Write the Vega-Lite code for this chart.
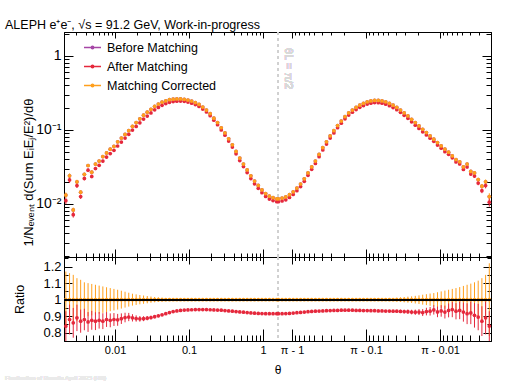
{
"$schema": "https://vega.github.io/schema/vega-lite/v6.json",
"autosize": {"type": "pad"},
"padding": {"left": 5, "top": 18, "right": 38, "bottom": 4},
"bounds": "flush",
"spacing": 0,
"config": {
 "font": "Liberation Sans",
 "view": {"stroke": null},
 "legend": {"symbolStrokeWidth": 1.5},
 "axis": {"labelFont": "Liberation Sans", "titleFont": "Liberation Sans", "labelColor": "black", "titleColor": "black", "titleFontWeight": "normal", "grid": false, "domainColor": "black", "domainWidth": 1, "tickColor": "black", "tickWidth": 1, "ticks": true, "labelOverlap": false, "labelFlush": false, "labelBound": false}
},
"title": {"text": "ALEPH e⁺e⁻, √s = 91.2 GeV, Work-in-progress", "anchor": "start", "fontSize": 12.5, "font": "Liberation Sans", "fontWeight": "normal", "color": "black", "offset": 0.5},
"resolve": {"scale": {"color": "shared"}},
"datasets": {"bins": [
{"u":-2.665,"b":0.01318,"a":0.01107,"e":0.00112,"rc":1,"ra":0.84,"ec":0.17,"ea":0.09},
{"u":-2.615,"b":0.024,"a":0.02112,"e":0.00192,"rc":1,"ra":0.88,"ec":0.16,"ea":0.09},
{"u":-2.565,"b":0.00832,"a":0.00716,"e":0.00062,"rc":1,"ra":0.86,"ec":0.15,"ea":0.09},
{"u":-2.515,"b":0.01995,"a":0.01776,"e":0.0013,"rc":1,"ra":0.89,"ec":0.13,"ea":0.08},
{"u":-2.465,"b":0.01445,"a":0.01257,"e":0.00087,"rc":1,"ra":0.87,"ec":0.12,"ea":0.07},
{"u":-2.415,"b":0.02512,"a":0.02211,"e":0.00132,"rc":1,"ra":0.88,"ec":0.105,"ea":0.065},
{"u":-2.365,"b":0.03311,"a":0.02864,"e":0.00166,"rc":1,"ra":0.865,"ec":0.1,"ea":0.06},
{"u":-2.315,"b":0.02692,"a":0.02356,"e":0.00128,"rc":1,"ra":0.875,"ec":0.095,"ea":0.057},
{"u":-2.265,"b":0.03467,"a":0.03016,"e":0.00156,"rc":1,"ra":0.87,"ec":0.09,"ea":0.054},
{"u":-2.215,"b":0.03802,"a":0.03327,"e":0.00162,"rc":1,"ra":0.875,"ec":0.085,"ea":0.05},
{"u":-2.165,"b":0.04365,"a":0.03798,"e":0.00175,"rc":1,"ra":0.87,"ec":0.08,"ea":0.048},
{"u":-2.115,"b":0.04898,"a":0.0431,"e":0.00184,"rc":1,"ra":0.88,"ec":0.075,"ea":0.045},
{"u":-2.065,"b":0.05495,"a":0.04808,"e":0.00192,"rc":1,"ra":0.875,"ec":0.07,"ea":0.042},
{"u":-2.015,"b":0.06026,"a":0.05303,"e":0.00196,"rc":1,"ra":0.88,"ec":0.065,"ea":0.039},
{"u":-1.965,"b":0.06918,"a":0.06074,"e":0.00208,"rc":1,"ra":0.878,"ec":0.06,"ea":0.036},
{"u":-1.915,"b":0.07762,"a":0.06869,"e":0.0021,"rc":1,"ra":0.885,"ec":0.054,"ea":0.032},
{"u":-1.865,"b":0.0871,"a":0.07769,"e":0.00209,"rc":1,"ra":0.892,"ec":0.048,"ea":0.029},
{"u":-1.815,"b":0.09772,"a":0.08746,"e":0.00205,"rc":1,"ra":0.895,"ec":0.042,"ea":0.025},
{"u":-1.765,"b":0.1122,"a":0.09986,"e":0.00202,"rc":1,"ra":0.89,"ec":0.036,"ea":0.022},
{"u":-1.715,"b":0.1259,"a":0.1115,"e":0.00201,"rc":1,"ra":0.886,"ec":0.032,"ea":0.019},
{"u":-1.665,"b":0.1413,"a":0.1249,"rc":1,"ra":0.884,"ec":0.028,"ea":0.017},
{"u":-1.615,"b":0.1585,"a":0.1403,"rc":1,"ra":0.885,"ec":0.025,"ea":0.015},
{"u":-1.565,"b":0.1738,"a":0.1543,"rc":1,"ra":0.888,"ec":0.022,"ea":0.013},
{"u":-1.515,"b":0.1905,"a":0.1699,"rc":1,"ra":0.892,"ec":0.019,"ea":0.011},
{"u":-1.465,"b":0.2089,"a":0.1874,"rc":1,"ra":0.897,"ec":0.016,"ea":0.01},
{"u":-1.415,"b":0.2239,"a":0.202,"rc":1,"ra":0.902,"ec":0.014,"ea":0.008},
{"u":-1.365,"b":0.2371,"a":0.2153,"rc":1,"ra":0.908,"ec":0.012,"ea":0.007},
{"u":-1.315,"b":0.2483,"a":0.2272,"rc":1,"ra":0.915,"ec":0.01,"ea":0.006},
{"u":-1.265,"b":0.257,"a":0.237,"rc":1,"ra":0.922,"ec":0.009,"ea":0.005},
{"u":-1.215,"b":0.2612,"a":0.2424,"rc":1,"ra":0.928,"ec":0.008,"ea":0.005},
{"u":-1.165,"b":0.263,"a":0.2451,"rc":1,"ra":0.932,"ec":0.007,"ea":0.004},
{"u":-1.115,"b":0.263,"a":0.2459,"rc":1,"ra":0.935,"ec":0.006,"ea":0.004},
{"u":-1.065,"b":0.26,"a":0.2436,"rc":1,"ra":0.937,"ec":0.0055,"ea":0.004},
{"u":-1.015,"b":0.2541,"a":0.2384,"rc":1,"ra":0.938,"ec":0.005,"ea":0.004},
{"u":-0.965,"b":0.2455,"a":0.2305,"rc":1,"ra":0.939,"ec":0.005,"ea":0.004},
{"u":-0.915,"b":0.2344,"a":0.2203,"rc":1,"ra":0.94,"ec":0.005,"ea":0.004},
{"u":-0.865,"b":0.2213,"a":0.208,"rc":1,"ra":0.94,"ec":0.005,"ea":0.004},
{"u":-0.815,"b":0.2042,"a":0.1919,"rc":1,"ra":0.94,"ec":0.005,"ea":0.004},
{"u":-0.765,"b":0.1862,"a":0.175,"rc":1,"ra":0.94,"ec":0.005,"ea":0.004},
{"u":-0.715,"b":0.166,"a":0.1559,"rc":1,"ra":0.939,"ec":0.005,"ea":0.004},
{"u":-0.665,"b":0.1445,"a":0.1355,"rc":1,"ra":0.938,"ec":0.005,"ea":0.004},
{"u":-0.615,"b":0.1259,"a":0.118,"rc":1,"ra":0.937,"ec":0.005,"ea":0.004},
{"u":-0.565,"b":0.1072,"a":0.1003,"rc":1,"ra":0.936,"ec":0.005,"ea":0.004},
{"u":-0.515,"b":0.0912,"a":0.08518,"rc":1,"ra":0.934,"ec":0.005,"ea":0.004},
{"u":-0.465,"b":0.07586,"a":0.0707,"rc":1,"ra":0.932,"ec":0.005,"ea":0.004},
{"u":-0.415,"b":0.0631,"a":0.05868,"rc":1,"ra":0.93,"ec":0.005,"ea":0.004},
{"u":-0.365,"b":0.05129,"a":0.0476,"rc":1,"ra":0.928,"ec":0.005,"ea":0.004},
{"u":-0.315,"b":0.04169,"a":0.0386,"rc":1,"ra":0.926,"ec":0.005,"ea":0.004},
{"u":-0.265,"b":0.03467,"a":0.03204,"rc":1,"ra":0.924,"ec":0.005,"ea":0.004},
{"u":-0.215,"b":0.02884,"a":0.02659,"rc":1,"ra":0.922,"ec":0.005,"ea":0.004},
{"u":-0.165,"b":0.024,"a":0.02208,"rc":1,"ra":0.92,"ec":0.005,"ea":0.004},
{"u":-0.115,"b":0.02042,"a":0.01875,"rc":1,"ra":0.918,"ec":0.005,"ea":0.004},
{"u":-0.065,"b":0.01778,"a":0.0163,"rc":1,"ra":0.917,"ec":0.005,"ea":0.004},
{"u":-0.015,"b":0.01549,"a":0.01419,"rc":1,"ra":0.916,"ec":0.005,"ea":0.004},
{"u":0.035,"b":0.0138,"a":0.01263,"rc":1,"ra":0.915,"ec":0.005,"ea":0.004},
{"u":0.085,"b":0.01274,"a":0.01166,"rc":1,"ra":0.915,"ec":0.005,"ea":0.004},
{"u":0.135,"b":0.01216,"a":0.01113,"rc":1,"ra":0.915,"ec":0.005,"ea":0.004},
{"u":0.185,"b":0.01175,"a":0.01075,"rc":1,"ra":0.915,"ec":0.005,"ea":0.004},
{"u":0.207,"b":0.01175,"a":0.01075,"rc":1,"ra":0.915,"ec":0.005,"ea":0.004},
{"u":0.257,"b":0.01202,"a":0.011,"rc":1,"ra":0.915,"ec":0.005,"ea":0.004},
{"u":0.307,"b":0.01245,"a":0.0114,"rc":1,"ra":0.916,"ec":0.005,"ea":0.004},
{"u":0.357,"b":0.01334,"a":0.01223,"rc":1,"ra":0.917,"ec":0.005,"ea":0.004},
{"u":0.407,"b":0.01462,"a":0.01344,"rc":1,"ra":0.919,"ec":0.005,"ea":0.004},
{"u":0.457,"b":0.01641,"a":0.01511,"rc":1,"ra":0.921,"ec":0.005,"ea":0.004},
{"u":0.507,"b":0.01862,"a":0.01719,"rc":1,"ra":0.923,"ec":0.005,"ea":0.004},
{"u":0.557,"b":0.02188,"a":0.02024,"rc":1,"ra":0.925,"ec":0.005,"ea":0.004},
{"u":0.607,"b":0.0263,"a":0.02438,"rc":1,"ra":0.927,"ec":0.005,"ea":0.004},
{"u":0.657,"b":0.03162,"a":0.02937,"rc":1,"ra":0.929,"ec":0.005,"ea":0.004},
{"u":0.707,"b":0.03802,"a":0.03536,"rc":1,"ra":0.93,"ec":0.005,"ea":0.004},
{"u":0.757,"b":0.04677,"a":0.04354,"rc":1,"ra":0.931,"ec":0.005,"ea":0.004},
{"u":0.807,"b":0.05754,"a":0.05363,"rc":1,"ra":0.932,"ec":0.005,"ea":0.004},
{"u":0.857,"b":0.06918,"a":0.06455,"rc":1,"ra":0.933,"ec":0.005,"ea":0.004},
{"u":0.907,"b":0.08318,"a":0.07769,"rc":1,"ra":0.934,"ec":0.005,"ea":0.004},
{"u":0.957,"b":0.09772,"a":0.09137,"rc":1,"ra":0.935,"ec":0.005,"ea":0.004},
{"u":1.007,"b":0.1148,"a":0.1073,"rc":1,"ra":0.935,"ec":0.005,"ea":0.004},
{"u":1.057,"b":0.1318,"a":0.1234,"rc":1,"ra":0.936,"ec":0.005,"ea":0.004},
{"u":1.107,"b":0.1514,"a":0.1417,"rc":1,"ra":0.936,"ec":0.005,"ea":0.004},
{"u":1.157,"b":0.1698,"a":0.1589,"rc":1,"ra":0.936,"ec":0.005,"ea":0.004},
{"u":1.207,"b":0.1862,"a":0.1743,"rc":1,"ra":0.936,"ec":0.005,"ea":0.004},
{"u":1.257,"b":0.2018,"a":0.1887,"rc":1,"ra":0.935,"ec":0.005,"ea":0.004},
{"u":1.307,"b":0.2163,"a":0.2022,"rc":1,"ra":0.935,"ec":0.005,"ea":0.004},
{"u":1.357,"b":0.2291,"a":0.214,"rc":1,"ra":0.934,"ec":0.005,"ea":0.004},
{"u":1.407,"b":0.2399,"a":0.2241,"rc":1,"ra":0.934,"ec":0.005,"ea":0.004},
{"u":1.457,"b":0.2472,"a":0.2306,"rc":1,"ra":0.933,"ec":0.005,"ea":0.004},
{"u":1.507,"b":0.2512,"a":0.2344,"rc":1,"ra":0.933,"ec":0.005,"ea":0.004},
{"u":1.557,"b":0.2512,"a":0.2341,"rc":1,"ra":0.932,"ec":0.006,"ea":0.004},
{"u":1.607,"b":0.2472,"a":0.2304,"rc":1,"ra":0.932,"ec":0.007,"ea":0.005},
{"u":1.657,"b":0.2399,"a":0.2233,"rc":1,"ra":0.931,"ec":0.008,"ea":0.006},
{"u":1.707,"b":0.2291,"a":0.2133,"rc":1,"ra":0.931,"ec":0.009,"ea":0.006},
{"u":1.757,"b":0.2163,"a":0.2012,"rc":1,"ra":0.93,"ec":0.01,"ea":0.007},
{"u":1.807,"b":0.2018,"a":0.1877,"rc":1,"ra":0.93,"ec":0.012,"ea":0.008},
{"u":1.857,"b":0.1862,"a":0.173,"rc":1,"ra":0.929,"ec":0.014,"ea":0.01},
{"u":1.907,"b":0.1698,"a":0.1576,"rc":1,"ra":0.928,"ec":0.016,"ea":0.011},
{"u":1.957,"b":0.1549,"a":0.1436,"rc":1,"ra":0.927,"ec":0.018,"ea":0.013},
{"u":2.007,"b":0.1396,"a":0.1291,"rc":1,"ra":0.925,"ec":0.02,"ea":0.014},
{"u":2.057,"b":0.1259,"a":0.1163,"rc":1,"ra":0.924,"ec":0.023,"ea":0.016},
{"u":2.107,"b":0.1135,"a":0.105,"rc":1,"ra":0.925,"ec":0.026,"ea":0.018},
{"u":2.157,"b":0.1023,"a":0.09432,"e":0.00153,"rc":1,"ra":0.922,"ec":0.03,"ea":0.021},
{"u":2.207,"b":0.09226,"a":0.08562,"e":0.00152,"rc":1,"ra":0.928,"ec":0.033,"ea":0.023},
{"u":2.257,"b":0.08318,"a":0.07736,"e":0.00154,"rc":1,"ra":0.93,"ec":0.037,"ea":0.026},
{"u":2.307,"b":0.07499,"a":0.07034,"e":0.0015,"rc":1,"ra":0.938,"ec":0.04,"ea":0.028},
{"u":2.357,"b":0.06761,"a":0.06261,"e":0.00152,"rc":1,"ra":0.926,"ec":0.045,"ea":0.032},
{"u":2.407,"b":0.06095,"a":0.0568,"e":0.00152,"rc":1,"ra":0.932,"ec":0.05,"ea":0.035},
{"u":2.457,"b":0.05495,"a":0.05083,"e":0.00151,"rc":1,"ra":0.925,"ec":0.055,"ea":0.039},
{"u":2.507,"b":0.05012,"a":0.04686,"e":0.0015,"rc":1,"ra":0.935,"ec":0.06,"ea":0.042},
{"u":2.557,"b":0.04467,"a":0.04199,"e":0.00145,"rc":1,"ra":0.94,"ec":0.065,"ea":0.046},
{"u":2.607,"b":0.03981,"a":0.03702,"e":0.00139,"rc":1,"ra":0.93,"ec":0.07,"ea":0.049},
{"u":2.657,"b":0.03715,"a":0.03474,"e":0.00141,"rc":1,"ra":0.935,"ec":0.076,"ea":0.053},
{"u":2.707,"b":0.03162,"a":0.02925,"e":0.00131,"rc":1,"ra":0.925,"ec":0.083,"ea":0.058},
{"u":2.757,"b":0.03467,"a":0.03172,"e":0.00156,"rc":1,"ra":0.915,"ec":0.09,"ea":0.063},
{"u":2.807,"b":0.02754,"a":0.02534,"e":0.00134,"rc":1,"ra":0.92,"ec":0.097,"ea":0.068},
{"u":2.857,"b":0.0263,"a":0.0238,"e":0.00138,"rc":1,"ra":0.905,"ec":0.105,"ea":0.074},
{"u":2.907,"b":0.02138,"a":0.01914,"e":0.00123,"rc":1,"ra":0.895,"ec":0.115,"ea":0.08},
{"u":2.957,"b":0.01738,"a":0.01512,"e":0.00113,"rc":1,"ra":0.87,"ec":0.13,"ea":0.09},
{"u":3.007,"b":0.01995,"a":0.01776,"e":0.0015,"rc":1,"ra":0.89,"ec":0.15,"ea":0.1},
{"u":3.057,"b":0.01259,"a":0.01058,"e":0.00138,"rc":1,"ra":0.84,"ec":0.22,"ea":0.09}
]},
"vconcat": [
{
 "width": 427, "height": 225,
 "data": {"name": "bins"},
 "resolve": {"axis": {"x": "independent", "y": "independent"}},
 "layer": [
  {"mark": {"type": "rule", "strokeDash": [3, 3], "color": "#d2d2d2", "strokeWidth": 1},
   "encoding": {"x": {"datum": 0.196, "type": "quantitative", "axis": null}}},
  {"mark": {"type": "text", "angle": 90, "align": "left", "baseline": "middle", "color": "#d9d9d9", "fontSize": 11, "font": "Liberation Sans", "fontWeight": "normal"},
   "encoding": {"x": {"datum": 0.34, "type": "quantitative", "axis": null}, "y": {"datum": 1.28, "type": "quantitative", "axis": null}, "text": {"value": "θL = π/2"}}},
  {"transform": [{"filter": "datum.u > 100"}],
   "mark": {"type": "point", "filled": false, "size": 14, "opacity": 1, "strokeWidth": 1.5},
   "encoding": {
    "x": {"field": "u", "type": "quantitative", "scale": {"domain": [-2.69, 3.08], "nice": false, "zero": false},
      "axis": {"orient": "bottom", "values": [-2,-1,0,0.392,1.392,2.392], "labels": false, "title": null, "tickSize": -8}},
    "y": {"field": "b", "type": "quantitative", "scale": {"type": "log", "domain": [0.00192, 2.11], "nice": false},
      "axis": {"orient": "left", "values": [0.01,0.1,1], "tickSize": -9,
        "labelExpr": "datum.value == 1 ? '1' : datum.value == 0.1 ? '10⁻¹' : '10⁻²'",
        "labelFontSize": 14, "labelPadding": 12, "title": "1/Nₑᵥₑₙₜ  d(Sum EᵢEⱼ/E²)/dθ", "titleFontSize": 13, "titlePadding": 0, "titleY": 140}},
    "color": {"datum": "Before Matching", "type": "nominal",
      "scale": {"domain": ["Before Matching", "After Matching", "Matching Corrected"], "range": ["#a646a6", "#e5283c", "#ff9f1c"]},
      "legend": {"orient": "none", "legendX": 19, "legendY": 6, "title": null, "labelFontSize": 12.5, "labelFont": "Liberation Sans", "labelColor": "black",
        "symbolType": "M-1,0H1M-0.14,0A0.14,0.14,0,1,1,0.14,0A0.14,0.14,0,1,1,-0.14,0Z", "symbolSize": 289, "symbolStrokeWidth": 1.5, "rowPadding": 3, "labelOffset": 5, "padding": 0}}
   }},
  {"mark": {"type": "point", "filled": true, "size": 14, "opacity": 1, "shape": "circle", "color": "#a646a6"},
   "encoding": {
    "x": {"field": "u", "type": "quantitative",
      "axis": {"orient": "top", "values": [-2,-1,0,0.392,1.392,2.392], "labels": false, "title": null, "tickSize": -6}},
    "y": {"field": "b", "type": "quantitative",
      "axis": {"orient": "right", "values": [0.01,0.1,1], "labels": false, "title": null, "tickSize": -9}}
   }},
  {"transform": [{"filter": "datum.e > 0"}],
   "mark": {"type": "errorbar", "color": "#ff9f1c", "ticks": false, "thickness": 1},
   "encoding": {"x": {"field": "u", "type": "quantitative", "axis": null}, "y": {"field": "b", "type": "quantitative", "axis": null}, "yError": {"field": "e"}}},
  {"transform": [{"filter": "datum.e > 0"}],
   "mark": {"type": "errorbar", "color": "#e5283c", "ticks": false, "thickness": 1},
   "encoding": {"x": {"field": "u", "type": "quantitative", "axis": null}, "y": {"field": "a", "type": "quantitative", "axis": null}, "yError": {"field": "e"}}},
  {"mark": {"type": "point", "filled": true, "size": 14, "opacity": 1, "shape": "circle", "color": "#e5283c"},
   "encoding": {
    "x": {"field": "u", "type": "quantitative",
      "axis": {"orient": "bottom", "values": [-2.523,-2.398,-2.301,-2.222,-2.155,-2.097,-2.046,-1.699,-1.523,-1.398,-1.301,-1.222,-1.155,-1.097,-1.046,-0.699,-0.523,-0.398,-0.301,-0.222,-0.155,-0.097,-0.046,0.438,0.489,0.547,0.614,0.693,0.79,0.915,1.091,1.438,1.489,1.547,1.614,1.693,1.79,1.915,2.091,2.438,2.489,2.547,2.614,2.693,2.79,2.915], "labels": false, "title": null, "tickSize": -4}},
    "y": {"field": "a", "type": "quantitative",
      "axis": {"orient": "left", "values": [0.002,0.003,0.004,0.005,0.006,0.007,0.008,0.009,0.02,0.03,0.04,0.05,0.06,0.07,0.08,0.09,0.2,0.3,0.4,0.5,0.6,0.7,0.8,0.9,2], "labels": false, "title": null, "tickSize": -5}}
   }},
  {"mark": {"type": "point", "filled": true, "size": 14, "opacity": 1, "shape": "circle", "color": "#ff9f1c"},
   "encoding": {
    "x": {"field": "u", "type": "quantitative",
      "axis": {"orient": "top", "values": [-2.523,-2.398,-2.301,-2.222,-2.155,-2.097,-2.046,-1.699,-1.523,-1.398,-1.301,-1.222,-1.155,-1.097,-1.046,-0.699,-0.523,-0.398,-0.301,-0.222,-0.155,-0.097,-0.046,0.438,0.489,0.547,0.614,0.693,0.79,0.915,1.091,1.438,1.489,1.547,1.614,1.693,1.79,1.915,2.091,2.438,2.489,2.547,2.614,2.693,2.79,2.915], "labels": false, "title": null, "tickSize": -3}},
    "y": {"field": "b", "type": "quantitative",
      "axis": {"orient": "right", "values": [0.002,0.003,0.004,0.005,0.006,0.007,0.008,0.009,0.02,0.03,0.04,0.05,0.06,0.07,0.08,0.09,0.2,0.3,0.4,0.5,0.6,0.7,0.8,0.9,2], "labels": false, "title": null, "tickSize": -5}}
   }}
 ]
},
{
 "width": 427, "height": 84,
 "data": {"name": "bins"},
 "resolve": {"axis": {"x": "independent", "y": "independent"}},
 "layer": [
  {"mark": {"type": "rule", "strokeDash": [3, 3], "color": "#d2d2d2", "strokeWidth": 1},
   "encoding": {"x": {"datum": 0.196, "type": "quantitative", "axis": null}}},
  {"mark": {"type": "errorbar", "color": "#ff9f1c", "ticks": false, "thickness": 1},
   "encoding": {"x": {"field": "u", "type": "quantitative", "axis": null}, "y": {"field": "rc", "type": "quantitative", "axis": null}, "yError": {"field": "ec"}}},
  {"mark": {"type": "errorbar", "color": "#e5283c", "ticks": false, "thickness": 1},
   "encoding": {"x": {"field": "u", "type": "quantitative", "axis": null}, "y": {"field": "ra", "type": "quantitative", "axis": null}, "yError": {"field": "ea"}}},
  {"mark": {"type": "point", "filled": true, "size": 14, "opacity": 1, "shape": "circle", "color": "#e5283c"},
   "encoding": {
    "x": {"field": "u", "type": "quantitative", "scale": {"domain": [-2.69, 3.08], "nice": false, "zero": false},
      "axis": {"orient": "bottom", "values": [-2,-1,0,0.392,1.392,2.392], "tickSize": -12,
        "labelExpr": "datum.value == -2 ? '0.01' : datum.value == -1 ? '0.1' : datum.value == 0 ? '1' : datum.value == 0.392 ? 'π - 1' : datum.value == 1.392 ? 'π - 0.1' : 'π - 0.01'",
        "labelFontSize": 11, "labelPadding": 15, "title": "θ", "titleFontSize": 12, "titlePadding": 9}},
    "y": {"field": "ra", "type": "quantitative", "scale": {"domain": [0.75, 1.258], "nice": false, "zero": false},
      "axis": {"orient": "left", "values": [0.8,0.9,1,1.1,1.2], "tickSize": -8,
        "labelExpr": "datum.value == 1 ? '1' : format(datum.value, '.1f')",
        "labelFontSize": 13, "labelPadding": 11, "title": "Ratio", "titleFontSize": 12.5, "titlePadding": 16}}
   }},
  {"mark": {"type": "point", "filled": true, "size": 14, "opacity": 1, "shape": "circle", "color": "#ff9f1c"},
   "encoding": {
    "x": {"field": "u", "type": "quantitative",
      "axis": {"orient": "top", "values": [-2,-1,0,0.392,1.392,2.392], "labels": false, "title": null, "tickSize": -7}},
    "y": {"field": "rc", "type": "quantitative",
      "axis": {"orient": "right", "values": [0.8,0.9,1,1.1,1.2], "labels": false, "title": null, "tickSize": -8}}
   }},
  {"mark": {"type": "point", "opacity": 0},
   "encoding": {
    "x": {"field": "u", "type": "quantitative",
      "axis": {"orient": "bottom", "values": [-2.523,-2.398,-2.301,-2.222,-2.155,-2.097,-2.046,-1.699,-1.523,-1.398,-1.301,-1.222,-1.155,-1.097,-1.046,-0.699,-0.523,-0.398,-0.301,-0.222,-0.155,-0.097,-0.046,0.438,0.489,0.547,0.614,0.693,0.79,0.915,1.091,1.438,1.489,1.547,1.614,1.693,1.79,1.915,2.091,2.438,2.489,2.547,2.614,2.693,2.79,2.915], "labels": false, "title": null, "tickSize": -6}},
    "y": {"field": "rc", "type": "quantitative",
      "axis": {"orient": "left", "values": [0.85,0.95,1.05,1.15,1.25], "labels": false, "title": null, "tickSize": -4}}
   }},
  {"mark": {"type": "point", "opacity": 0},
   "encoding": {
    "x": {"field": "u", "type": "quantitative",
      "axis": {"orient": "top", "values": [-2.523,-2.398,-2.301,-2.222,-2.155,-2.097,-2.046,-1.699,-1.523,-1.398,-1.301,-1.222,-1.155,-1.097,-1.046,-0.699,-0.523,-0.398,-0.301,-0.222,-0.155,-0.097,-0.046,0.438,0.489,0.547,0.614,0.693,0.79,0.915,1.091,1.438,1.489,1.547,1.614,1.693,1.79,1.915,2.091,2.438,2.489,2.547,2.614,2.693,2.79,2.915], "labels": false, "title": null, "tickSize": -3.5}},
    "y": {"field": "rc", "type": "quantitative",
      "axis": {"orient": "right", "values": [0.85,0.95,1.05,1.15,1.25], "labels": false, "title": null, "tickSize": -4}}
   }},
  {"mark": {"type": "rule", "color": "black", "strokeWidth": 1.2},
   "encoding": {"y": {"datum": 1, "type": "quantitative", "axis": null}}},
  {"mark": {"type": "text", "align": "left", "baseline": "middle", "fontSize": 6, "color": "#eaeaea", "dx": -59, "dy": 37},
   "encoding": {"x": {"datum": -2.69, "type": "quantitative", "axis": null}, "y": {"datum": 0.75, "type": "quantitative", "axis": null}, "text": {"value": "Finalization of Results April 2025 (HB)"}}}
 ]
}
]
}
